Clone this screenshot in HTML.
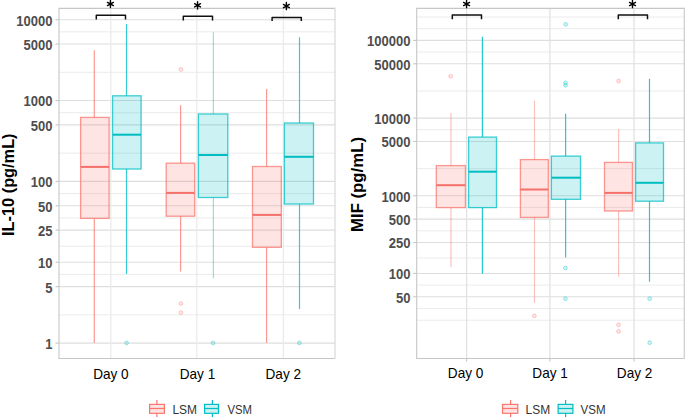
<!DOCTYPE html>
<html><head><meta charset="utf-8"><style>
html,body{margin:0;padding:0;background:#fff;width:685px;height:417px;overflow:hidden}
svg{display:block}
text{font-family:"Liberation Sans",sans-serif}
.yl{font-size:14px;font-weight:bold;fill:#4d4d4d;text-anchor:end}
.xl{font-size:14.5px;fill:#000;text-anchor:middle}
.tt{font-size:16.7px;font-weight:bold;fill:#000;text-anchor:middle}
.st{font-size:15px;font-weight:bold;fill:#000;text-anchor:middle}
.lg{font-size:12.5px;fill:#333}
</style></head><body>
<svg width="685" height="417" viewBox="0 0 685 417">
<rect width="685" height="417" fill="#fff"/>
<line x1="59" x2="335" y1="314.86" y2="314.86" stroke="#ebebeb" stroke-width="1"/>
<line x1="59" x2="335" y1="274.44" y2="274.44" stroke="#ebebeb" stroke-width="1"/>
<line x1="59" x2="335" y1="246.18" y2="246.18" stroke="#ebebeb" stroke-width="1"/>
<line x1="59" x2="335" y1="217.93" y2="217.93" stroke="#ebebeb" stroke-width="1"/>
<line x1="59" x2="335" y1="193.59" y2="193.59" stroke="#ebebeb" stroke-width="1"/>
<line x1="59" x2="335" y1="153.16" y2="153.16" stroke="#ebebeb" stroke-width="1"/>
<line x1="59" x2="335" y1="112.74" y2="112.74" stroke="#ebebeb" stroke-width="1"/>
<line x1="59" x2="335" y1="72.31" y2="72.31" stroke="#ebebeb" stroke-width="1"/>
<line x1="59" x2="335" y1="31.89" y2="31.89" stroke="#ebebeb" stroke-width="1"/>
<line x1="59" x2="335" y1="343.12" y2="343.12" stroke="#dedede" stroke-width="1.1"/>
<line x1="59" x2="335" y1="286.61" y2="286.61" stroke="#dedede" stroke-width="1.1"/>
<line x1="59" x2="335" y1="262.27" y2="262.27" stroke="#dedede" stroke-width="1.1"/>
<line x1="59" x2="335" y1="230.1" y2="230.1" stroke="#dedede" stroke-width="1.1"/>
<line x1="59" x2="335" y1="205.76" y2="205.76" stroke="#dedede" stroke-width="1.1"/>
<line x1="59" x2="335" y1="181.42" y2="181.42" stroke="#dedede" stroke-width="1.1"/>
<line x1="59" x2="335" y1="124.91" y2="124.91" stroke="#dedede" stroke-width="1.1"/>
<line x1="59" x2="335" y1="100.57" y2="100.57" stroke="#dedede" stroke-width="1.1"/>
<line x1="59" x2="335" y1="44.06" y2="44.06" stroke="#dedede" stroke-width="1.1"/>
<line x1="59" x2="335" y1="19.72" y2="19.72" stroke="#dedede" stroke-width="1.1"/>
<line x1="110.8" x2="110.8" y1="8.4" y2="358.5" stroke="#ebebeb" stroke-width="1.3"/>
<line x1="196.8" x2="196.8" y1="8.4" y2="358.5" stroke="#ebebeb" stroke-width="1.3"/>
<line x1="283.4" x2="283.4" y1="8.4" y2="358.5" stroke="#ebebeb" stroke-width="1.3"/>
<line x1="55.5" x2="59" y1="343.12" y2="343.12" stroke="#c6c6c6" stroke-width="1.1"/>
<text transform="translate(52.4,349.02) scale(0.93,1)" class="yl">1</text>
<line x1="55.5" x2="59" y1="286.61" y2="286.61" stroke="#c6c6c6" stroke-width="1.1"/>
<text transform="translate(52.4,292.51) scale(0.93,1)" class="yl">5</text>
<line x1="55.5" x2="59" y1="262.27" y2="262.27" stroke="#c6c6c6" stroke-width="1.1"/>
<text transform="translate(52.4,268.17) scale(0.93,1)" class="yl">10</text>
<line x1="55.5" x2="59" y1="230.1" y2="230.1" stroke="#c6c6c6" stroke-width="1.1"/>
<text transform="translate(52.4,236) scale(0.93,1)" class="yl">25</text>
<line x1="55.5" x2="59" y1="205.76" y2="205.76" stroke="#c6c6c6" stroke-width="1.1"/>
<text transform="translate(52.4,211.66) scale(0.93,1)" class="yl">50</text>
<line x1="55.5" x2="59" y1="181.42" y2="181.42" stroke="#c6c6c6" stroke-width="1.1"/>
<text transform="translate(52.4,187.32) scale(0.93,1)" class="yl">100</text>
<line x1="55.5" x2="59" y1="124.91" y2="124.91" stroke="#c6c6c6" stroke-width="1.1"/>
<text transform="translate(52.4,130.81) scale(0.93,1)" class="yl">500</text>
<line x1="55.5" x2="59" y1="100.57" y2="100.57" stroke="#c6c6c6" stroke-width="1.1"/>
<text transform="translate(52.4,106.47) scale(0.93,1)" class="yl">1000</text>
<line x1="55.5" x2="59" y1="44.06" y2="44.06" stroke="#c6c6c6" stroke-width="1.1"/>
<text transform="translate(52.4,49.96) scale(0.93,1)" class="yl">5000</text>
<line x1="55.5" x2="59" y1="19.72" y2="19.72" stroke="#c6c6c6" stroke-width="1.1"/>
<text transform="translate(52.4,25.62) scale(0.93,1)" class="yl">10000</text>
<text x="110.9" y="378.9" class="xl" textLength="35.5" lengthAdjust="spacingAndGlyphs">Day 0</text>
<text x="197.5" y="378.9" class="xl" textLength="35.5" lengthAdjust="spacingAndGlyphs">Day 1</text>
<text x="283.3" y="378.9" class="xl" textLength="35.5" lengthAdjust="spacingAndGlyphs">Day 2</text>
<text transform="translate(14.1,184.7) rotate(-90)" x="0" y="0" class="tt" textLength="102.5" lengthAdjust="spacingAndGlyphs">IL-10 (pg/mL)</text>
<line x1="94.3" x2="94.3" y1="50.3" y2="117.4" stroke="#F8766D" stroke-opacity="0.75" stroke-width="1.2"/>
<line x1="94.3" x2="94.3" y1="218.4" y2="343" stroke="#F8766D" stroke-opacity="0.75" stroke-width="1.2"/>
<rect x="80.6" y="117.4" width="28.5" height="101" fill="#F8766D" fill-opacity="0.2" stroke="#F8766D" stroke-opacity="0.75" stroke-width="1.3"/>
<line x1="80.6" x2="109.1" y1="166.9" y2="166.9" stroke="#F4706A" stroke-width="2"/>
<circle cx="126.6" cy="342.9" r="1.9" fill="#00BFC4" fill-opacity="0.18" stroke="#00BFC4" stroke-opacity="0.4" stroke-width="0.9"/>
<line x1="126.5" x2="126.5" y1="24" y2="95.8" stroke="#00BFC4" stroke-opacity="0.8" stroke-width="1.2"/>
<line x1="126.5" x2="126.5" y1="169" y2="274" stroke="#00BFC4" stroke-opacity="0.8" stroke-width="1.2"/>
<rect x="112.6" y="95.8" width="28.5" height="73.2" fill="#00BFC4" fill-opacity="0.2" stroke="#00BFC4" stroke-opacity="0.75" stroke-width="1.3"/>
<line x1="112.6" x2="141.1" y1="134.7" y2="134.7" stroke="#00BDC2" stroke-width="2"/>
<circle cx="180.9" cy="69.4" r="1.9" fill="#F8766D" fill-opacity="0.18" stroke="#F8766D" stroke-opacity="0.4" stroke-width="0.9"/>
<circle cx="180.9" cy="303.6" r="1.9" fill="#F8766D" fill-opacity="0.18" stroke="#F8766D" stroke-opacity="0.4" stroke-width="0.9"/>
<circle cx="180.9" cy="312.6" r="1.9" fill="#F8766D" fill-opacity="0.18" stroke="#F8766D" stroke-opacity="0.4" stroke-width="0.9"/>
<line x1="180.6" x2="180.6" y1="105.3" y2="163.2" stroke="#F8766D" stroke-opacity="0.75" stroke-width="1.2"/>
<line x1="180.6" x2="180.6" y1="216.2" y2="271.6" stroke="#F8766D" stroke-opacity="0.75" stroke-width="1.2"/>
<rect x="166.2" y="163.2" width="28.5" height="53" fill="#F8766D" fill-opacity="0.2" stroke="#F8766D" stroke-opacity="0.75" stroke-width="1.3"/>
<line x1="166.2" x2="194.7" y1="192.9" y2="192.9" stroke="#F4706A" stroke-width="2"/>
<circle cx="213.1" cy="343" r="1.9" fill="#00BFC4" fill-opacity="0.18" stroke="#00BFC4" stroke-opacity="0.4" stroke-width="0.9"/>
<line x1="213.4" x2="213.4" y1="32.2" y2="114" stroke="#00BFC4" stroke-opacity="0.45" stroke-width="1.2"/>
<line x1="213.4" x2="213.4" y1="197.5" y2="278.2" stroke="#00BFC4" stroke-opacity="0.45" stroke-width="1.2"/>
<rect x="198.4" y="114" width="29.4" height="83.5" fill="#00BFC4" fill-opacity="0.2" stroke="#00BFC4" stroke-opacity="0.75" stroke-width="1.3"/>
<line x1="198.4" x2="227.8" y1="155" y2="155" stroke="#00BDC2" stroke-width="2"/>
<line x1="266.6" x2="266.6" y1="89.1" y2="166.5" stroke="#F8766D" stroke-opacity="0.75" stroke-width="1.2"/>
<line x1="266.6" x2="266.6" y1="247.3" y2="343" stroke="#F8766D" stroke-opacity="0.75" stroke-width="1.2"/>
<rect x="252.5" y="166.5" width="28.8" height="80.8" fill="#F8766D" fill-opacity="0.2" stroke="#F8766D" stroke-opacity="0.75" stroke-width="1.3"/>
<line x1="252.5" x2="281.3" y1="214.9" y2="214.9" stroke="#F4706A" stroke-width="2"/>
<circle cx="299.4" cy="342.9" r="1.9" fill="#00BFC4" fill-opacity="0.18" stroke="#00BFC4" stroke-opacity="0.4" stroke-width="0.9"/>
<line x1="299.5" x2="299.5" y1="37.3" y2="123" stroke="#00BFC4" stroke-opacity="0.8" stroke-width="1.2"/>
<line x1="299.5" x2="299.5" y1="204" y2="309.1" stroke="#00BFC4" stroke-opacity="0.8" stroke-width="1.2"/>
<rect x="284.4" y="123" width="29.1" height="81" fill="#00BFC4" fill-opacity="0.2" stroke="#00BFC4" stroke-opacity="0.75" stroke-width="1.3"/>
<line x1="284.4" x2="313.5" y1="156.8" y2="156.8" stroke="#00BDC2" stroke-width="2"/>
<path d="M335,8.4 H59 V358.5 H335" fill="none" stroke="#c6c6c6" stroke-width="1.1"/>
<line x1="335" x2="335" y1="7.85" y2="359.05" stroke="#dcdcdc" stroke-width="1.3"/>
<line x1="416.7" x2="684.3" y1="320.19" y2="320.19" stroke="#ebebeb" stroke-width="1"/>
<line x1="416.7" x2="684.3" y1="308.5" y2="308.5" stroke="#ebebeb" stroke-width="1"/>
<line x1="416.7" x2="684.3" y1="285.12" y2="285.12" stroke="#ebebeb" stroke-width="1"/>
<line x1="416.7" x2="684.3" y1="257.98" y2="257.98" stroke="#ebebeb" stroke-width="1"/>
<line x1="416.7" x2="684.3" y1="230.83" y2="230.83" stroke="#ebebeb" stroke-width="1"/>
<line x1="416.7" x2="684.3" y1="207.45" y2="207.45" stroke="#ebebeb" stroke-width="1"/>
<line x1="416.7" x2="684.3" y1="168.62" y2="168.62" stroke="#ebebeb" stroke-width="1"/>
<line x1="416.7" x2="684.3" y1="129.78" y2="129.78" stroke="#ebebeb" stroke-width="1"/>
<line x1="416.7" x2="684.3" y1="90.95" y2="90.95" stroke="#ebebeb" stroke-width="1"/>
<line x1="416.7" x2="684.3" y1="52.11" y2="52.11" stroke="#ebebeb" stroke-width="1"/>
<line x1="416.7" x2="684.3" y1="28.73" y2="28.73" stroke="#ebebeb" stroke-width="1"/>
<line x1="416.7" x2="684.3" y1="17.04" y2="17.04" stroke="#ebebeb" stroke-width="1"/>
<line x1="416.7" x2="684.3" y1="296.81" y2="296.81" stroke="#dedede" stroke-width="1.1"/>
<line x1="416.7" x2="684.3" y1="273.43" y2="273.43" stroke="#dedede" stroke-width="1.1"/>
<line x1="416.7" x2="684.3" y1="242.52" y2="242.52" stroke="#dedede" stroke-width="1.1"/>
<line x1="416.7" x2="684.3" y1="219.14" y2="219.14" stroke="#dedede" stroke-width="1.1"/>
<line x1="416.7" x2="684.3" y1="195.76" y2="195.76" stroke="#dedede" stroke-width="1.1"/>
<line x1="416.7" x2="684.3" y1="141.47" y2="141.47" stroke="#dedede" stroke-width="1.1"/>
<line x1="416.7" x2="684.3" y1="118.09" y2="118.09" stroke="#dedede" stroke-width="1.1"/>
<line x1="416.7" x2="684.3" y1="63.8" y2="63.8" stroke="#dedede" stroke-width="1.1"/>
<line x1="416.7" x2="684.3" y1="40.42" y2="40.42" stroke="#dedede" stroke-width="1.1"/>
<line x1="466.6" x2="466.6" y1="8.4" y2="358.5" stroke="#e2e2e2" stroke-width="1.3"/>
<line x1="549.9" x2="549.9" y1="8.4" y2="358.5" stroke="#e2e2e2" stroke-width="1.3"/>
<line x1="634" x2="634" y1="8.4" y2="358.5" stroke="#e2e2e2" stroke-width="1.3"/>
<line x1="413.2" x2="416.7" y1="296.81" y2="296.81" stroke="#c6c6c6" stroke-width="1.1"/>
<text transform="translate(410.4,302.71) scale(0.93,1)" class="yl">50</text>
<line x1="413.2" x2="416.7" y1="273.43" y2="273.43" stroke="#c6c6c6" stroke-width="1.1"/>
<text transform="translate(410.4,279.33) scale(0.93,1)" class="yl">100</text>
<line x1="413.2" x2="416.7" y1="242.52" y2="242.52" stroke="#c6c6c6" stroke-width="1.1"/>
<text transform="translate(410.4,248.42) scale(0.93,1)" class="yl">250</text>
<line x1="413.2" x2="416.7" y1="219.14" y2="219.14" stroke="#c6c6c6" stroke-width="1.1"/>
<text transform="translate(410.4,225.04) scale(0.93,1)" class="yl">500</text>
<line x1="413.2" x2="416.7" y1="195.76" y2="195.76" stroke="#c6c6c6" stroke-width="1.1"/>
<text transform="translate(410.4,201.66) scale(0.93,1)" class="yl">1000</text>
<line x1="413.2" x2="416.7" y1="141.47" y2="141.47" stroke="#c6c6c6" stroke-width="1.1"/>
<text transform="translate(410.4,147.37) scale(0.93,1)" class="yl">5000</text>
<line x1="413.2" x2="416.7" y1="118.09" y2="118.09" stroke="#c6c6c6" stroke-width="1.1"/>
<text transform="translate(410.4,123.99) scale(0.93,1)" class="yl">10000</text>
<line x1="413.2" x2="416.7" y1="63.8" y2="63.8" stroke="#c6c6c6" stroke-width="1.1"/>
<text transform="translate(410.4,69.7) scale(0.93,1)" class="yl">50000</text>
<line x1="413.2" x2="416.7" y1="40.42" y2="40.42" stroke="#c6c6c6" stroke-width="1.1"/>
<text transform="translate(410.4,46.32) scale(0.93,1)" class="yl">100000</text>
<line x1="466.6" x2="466.6" y1="358.5" y2="361.5" stroke="#c6c6c6" stroke-width="1.1"/>
<line x1="549.9" x2="549.9" y1="358.5" y2="361.5" stroke="#c6c6c6" stroke-width="1.1"/>
<line x1="634" x2="634" y1="358.5" y2="361.5" stroke="#c6c6c6" stroke-width="1.1"/>
<text x="465.6" y="377.8" class="xl" textLength="35.5" lengthAdjust="spacingAndGlyphs">Day 0</text>
<text x="550.1" y="377.8" class="xl" textLength="35.5" lengthAdjust="spacingAndGlyphs">Day 1</text>
<text x="634.6" y="377.8" class="xl" textLength="35.5" lengthAdjust="spacingAndGlyphs">Day 2</text>
<text transform="translate(362.6,184.5) rotate(-90)" x="0" y="0" class="tt" textLength="95" lengthAdjust="spacingAndGlyphs">MIF (pg/mL)</text>
<circle cx="450.7" cy="76.3" r="1.9" fill="#F8766D" fill-opacity="0.18" stroke="#F8766D" stroke-opacity="0.4" stroke-width="0.9"/>
<line x1="451" x2="451" y1="112.9" y2="165.6" stroke="#F8766D" stroke-opacity="0.45" stroke-width="1.2"/>
<line x1="451" x2="451" y1="207.6" y2="267" stroke="#F8766D" stroke-opacity="0.45" stroke-width="1.2"/>
<rect x="436.3" y="165.6" width="29.1" height="42" fill="#F8766D" fill-opacity="0.2" stroke="#F8766D" stroke-opacity="0.75" stroke-width="1.3"/>
<line x1="436.3" x2="465.4" y1="185.2" y2="185.2" stroke="#F4706A" stroke-width="2"/>
<line x1="482.4" x2="482.4" y1="36.8" y2="137.1" stroke="#00BFC4" stroke-opacity="0.85" stroke-width="1.2"/>
<line x1="482.4" x2="482.4" y1="207.6" y2="273.7" stroke="#00BFC4" stroke-opacity="0.85" stroke-width="1.2"/>
<rect x="468.6" y="137.1" width="27.9" height="70.5" fill="#00BFC4" fill-opacity="0.2" stroke="#00BFC4" stroke-opacity="0.75" stroke-width="1.3"/>
<line x1="468.6" x2="496.5" y1="171.7" y2="171.7" stroke="#00BDC2" stroke-width="2"/>
<circle cx="534.4" cy="315.8" r="1.9" fill="#F8766D" fill-opacity="0.18" stroke="#F8766D" stroke-opacity="0.4" stroke-width="0.9"/>
<line x1="534.5" x2="534.5" y1="100.7" y2="159.6" stroke="#F8766D" stroke-opacity="0.45" stroke-width="1.2"/>
<line x1="534.5" x2="534.5" y1="217.4" y2="302.9" stroke="#F8766D" stroke-opacity="0.45" stroke-width="1.2"/>
<rect x="520.4" y="159.6" width="27.9" height="57.8" fill="#F8766D" fill-opacity="0.2" stroke="#F8766D" stroke-opacity="0.75" stroke-width="1.3"/>
<line x1="520.4" x2="548.3" y1="189.5" y2="189.5" stroke="#F4706A" stroke-width="2"/>
<circle cx="565.7" cy="24.3" r="1.9" fill="#00BFC4" fill-opacity="0.18" stroke="#00BFC4" stroke-opacity="0.4" stroke-width="0.9"/>
<circle cx="565.5" cy="82.8" r="1.9" fill="#00BFC4" fill-opacity="0.18" stroke="#00BFC4" stroke-opacity="0.4" stroke-width="0.9"/>
<circle cx="565.5" cy="85.3" r="1.9" fill="#00BFC4" fill-opacity="0.18" stroke="#00BFC4" stroke-opacity="0.4" stroke-width="0.9"/>
<circle cx="565.4" cy="268" r="1.9" fill="#00BFC4" fill-opacity="0.18" stroke="#00BFC4" stroke-opacity="0.4" stroke-width="0.9"/>
<circle cx="565.4" cy="298.7" r="1.9" fill="#00BFC4" fill-opacity="0.18" stroke="#00BFC4" stroke-opacity="0.4" stroke-width="0.9"/>
<line x1="565.6" x2="565.6" y1="113.8" y2="156.1" stroke="#00BFC4" stroke-opacity="0.85" stroke-width="1.2"/>
<line x1="565.6" x2="565.6" y1="199.3" y2="257.6" stroke="#00BFC4" stroke-opacity="0.85" stroke-width="1.2"/>
<rect x="551.4" y="156.1" width="29.1" height="43.2" fill="#00BFC4" fill-opacity="0.2" stroke="#00BFC4" stroke-opacity="0.75" stroke-width="1.3"/>
<line x1="551.4" x2="580.5" y1="177.7" y2="177.7" stroke="#00BDC2" stroke-width="2"/>
<circle cx="618.6" cy="81" r="1.9" fill="#F8766D" fill-opacity="0.18" stroke="#F8766D" stroke-opacity="0.4" stroke-width="0.9"/>
<circle cx="618.6" cy="324.8" r="1.9" fill="#F8766D" fill-opacity="0.18" stroke="#F8766D" stroke-opacity="0.4" stroke-width="0.9"/>
<circle cx="618.6" cy="331.4" r="1.9" fill="#F8766D" fill-opacity="0.18" stroke="#F8766D" stroke-opacity="0.4" stroke-width="0.9"/>
<line x1="618.6" x2="618.6" y1="129.1" y2="162.4" stroke="#F8766D" stroke-opacity="0.45" stroke-width="1.2"/>
<line x1="618.6" x2="618.6" y1="211" y2="276.8" stroke="#F8766D" stroke-opacity="0.45" stroke-width="1.2"/>
<rect x="604.5" y="162.4" width="27.9" height="48.6" fill="#F8766D" fill-opacity="0.2" stroke="#F8766D" stroke-opacity="0.75" stroke-width="1.3"/>
<line x1="604.5" x2="632.4" y1="192.9" y2="192.9" stroke="#F4706A" stroke-width="2"/>
<circle cx="649.7" cy="298.6" r="1.9" fill="#00BFC4" fill-opacity="0.18" stroke="#00BFC4" stroke-opacity="0.4" stroke-width="0.9"/>
<circle cx="649.7" cy="342.7" r="1.9" fill="#00BFC4" fill-opacity="0.18" stroke="#00BFC4" stroke-opacity="0.4" stroke-width="0.9"/>
<line x1="649.5" x2="649.5" y1="78.7" y2="142.9" stroke="#00BFC4" stroke-opacity="0.85" stroke-width="1.2"/>
<line x1="649.5" x2="649.5" y1="201.2" y2="281.7" stroke="#00BFC4" stroke-opacity="0.85" stroke-width="1.2"/>
<rect x="635.6" y="142.9" width="27.9" height="58.3" fill="#00BFC4" fill-opacity="0.2" stroke="#00BFC4" stroke-opacity="0.75" stroke-width="1.3"/>
<line x1="635.6" x2="663.5" y1="182.8" y2="182.8" stroke="#00BDC2" stroke-width="2"/>
<path d="M684.3,8.4 H416.7 V358.5 H684.3" fill="none" stroke="#c6c6c6" stroke-width="1.1"/>
<line x1="684.3" x2="684.3" y1="7.85" y2="359.05" stroke="#d0d0d0" stroke-width="1.3"/>
<path d="M96.3,19.6 V15.3 H125.5 V19.6" fill="none" stroke="#111" stroke-width="1.5" stroke-linejoin="round"/>
<path d="M110.43,3.96 L110.43,0.36 M110.43,3.96 L110.43,7.56 M110.43,3.96 L113.38,2.36 M110.43,3.96 L107.48,2.36 M110.43,3.96 L113.38,5.56 M110.43,3.96 L107.48,5.56 " stroke="#000" stroke-width="1.4" stroke-linecap="round" fill="none"/>
<circle cx="110.43" cy="3.96" r="1.3" fill="#000"/>
<path d="M183.3,20.4 V16.3 H212.5 V20.4" fill="none" stroke="#111" stroke-width="1.5" stroke-linejoin="round"/>
<path d="M197.55,5.33 L197.55,1.73 M197.55,5.33 L197.55,8.93 M197.55,5.33 L200.5,3.73 M197.55,5.33 L194.6,3.73 M197.55,5.33 L200.5,6.93 M197.55,5.33 L194.6,6.93 " stroke="#000" stroke-width="1.4" stroke-linecap="round" fill="none"/>
<circle cx="197.55" cy="5.33" r="1.3" fill="#000"/>
<path d="M272.1,21 V17.4 H301.3 V21" fill="none" stroke="#111" stroke-width="1.5" stroke-linejoin="round"/>
<path d="M286.4,6.05 L286.4,2.45 M286.4,6.05 L286.4,9.65 M286.4,6.05 L289.35,4.45 M286.4,6.05 L283.45,4.45 M286.4,6.05 L289.35,7.65 M286.4,6.05 L283.45,7.65 " stroke="#000" stroke-width="1.4" stroke-linecap="round" fill="none"/>
<circle cx="286.4" cy="6.05" r="1.3" fill="#000"/>
<path d="M452.3,19.3 V15.1 H481.5 V19.3" fill="none" stroke="#111" stroke-width="1.5" stroke-linejoin="round"/>
<path d="M466.57,4.03 L466.57,0.43 M466.57,4.03 L466.57,7.63 M466.57,4.03 L469.52,2.43 M466.57,4.03 L463.62,2.43 M466.57,4.03 L469.52,5.63 M466.57,4.03 L463.62,5.63 " stroke="#000" stroke-width="1.4" stroke-linecap="round" fill="none"/>
<circle cx="466.57" cy="4.03" r="1.3" fill="#000"/>
<path d="M618.3,19.3 V15.1 H647.5 V19.3" fill="none" stroke="#111" stroke-width="1.5" stroke-linejoin="round"/>
<path d="M632.5,4.03 L632.5,0.43 M632.5,4.03 L632.5,7.63 M632.5,4.03 L635.45,2.43 M632.5,4.03 L629.55,2.43 M632.5,4.03 L635.45,5.63 M632.5,4.03 L629.55,5.63 " stroke="#000" stroke-width="1.4" stroke-linecap="round" fill="none"/>
<circle cx="632.5" cy="4.03" r="1.3" fill="#000"/>
<line x1="156.9" x2="156.9" y1="400" y2="417" stroke="#F8766D" stroke-width="1.2"/>
<rect x="149.6" y="404.4" width="14.8" height="8.9" fill="#FDE3E2" stroke="#F8766D" stroke-width="1.2"/>
<line x1="149.6" x2="164.4" y1="408.5" y2="408.5" stroke="#F8766D" stroke-width="1.2"/>
<text x="172.4" y="413.6" class="lg" textLength="24.6" lengthAdjust="spacingAndGlyphs">LSM</text>
<line x1="212.4" x2="212.4" y1="400" y2="417" stroke="#00BFC4" stroke-width="1.2"/>
<rect x="204.6" y="404.4" width="13.85" height="8.9" fill="#CCF2F3" stroke="#00BFC4" stroke-width="1.2"/>
<line x1="204.6" x2="218.45" y1="408.5" y2="408.5" stroke="#00BFC4" stroke-width="1.2"/>
<text x="227.4" y="413.6" class="lg" textLength="24.6" lengthAdjust="spacingAndGlyphs">VSM</text>
<line x1="510.6" x2="510.6" y1="400" y2="417" stroke="#F8766D" stroke-width="1.2"/>
<rect x="502.5" y="404.4" width="15.3" height="8.9" fill="#FDE3E2" stroke="#F8766D" stroke-width="1.2"/>
<line x1="502.5" x2="517.8" y1="408.5" y2="408.5" stroke="#F8766D" stroke-width="1.2"/>
<text x="525.6" y="413.6" class="lg" textLength="24.6" lengthAdjust="spacingAndGlyphs">LSM</text>
<line x1="565.6" x2="565.6" y1="400" y2="417" stroke="#00BFC4" stroke-width="1.2"/>
<rect x="558.1" y="404.4" width="14.8" height="8.9" fill="#CCF2F3" stroke="#00BFC4" stroke-width="1.2"/>
<line x1="558.1" x2="572.9" y1="408.5" y2="408.5" stroke="#00BFC4" stroke-width="1.2"/>
<text x="580.6" y="413.6" class="lg" textLength="25.0" lengthAdjust="spacingAndGlyphs">VSM</text>
</svg>
</body></html>
